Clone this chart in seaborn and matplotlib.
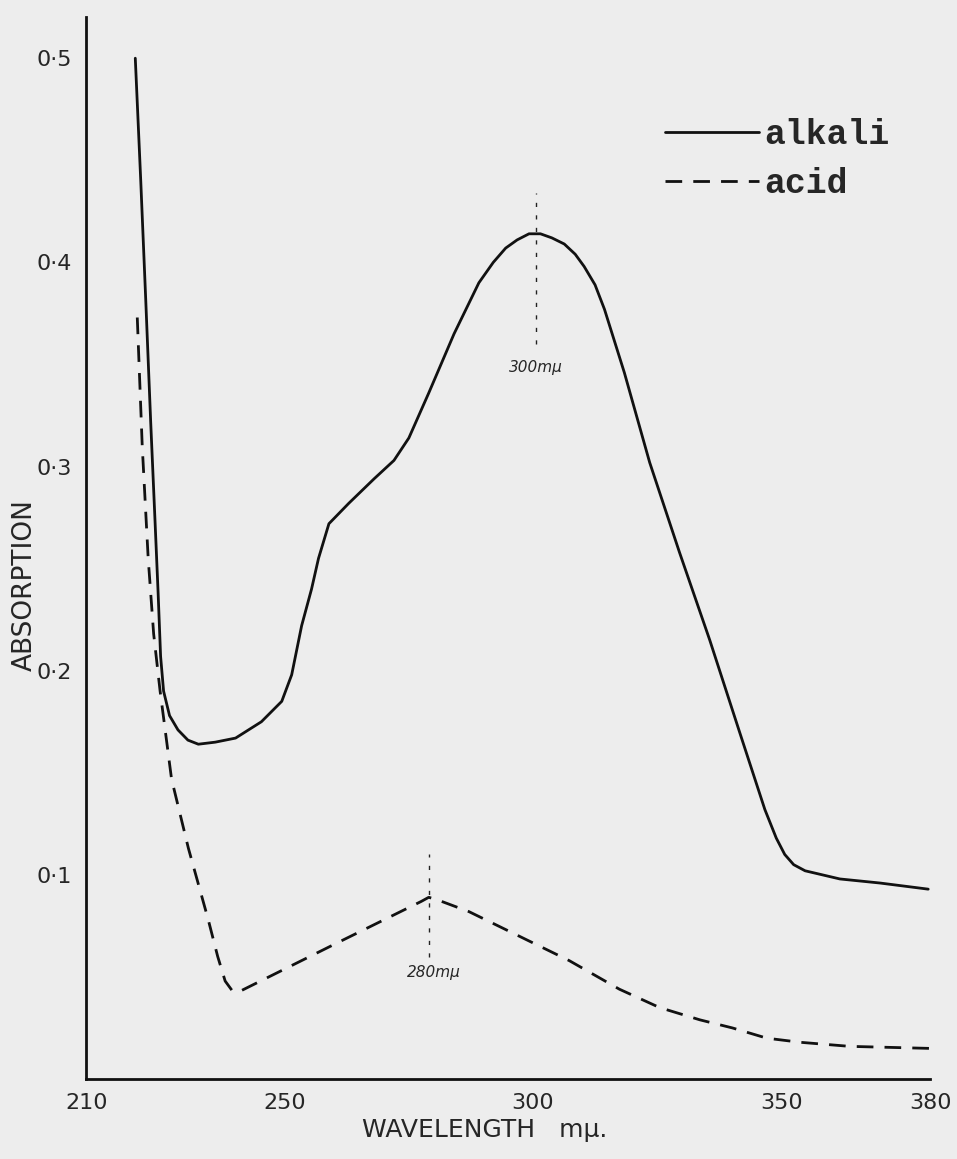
import matplotlib
matplotlib.use("Agg")
import matplotlib.pyplot as plt
import seaborn as sns

# Absorption spectrum
alkali_wl = [219.9, 221.0, 222.0, 223.0, 223.9, 224.5, 225.0, 225.6, 226.8, 228.5,
             230.5, 232.6, 236.0, 240.1, 245.3, 249.4, 251.4, 253.4, 255.4, 256.8,
             258.9, 262.9, 268.0, 272.0, 275.0, 279.0, 284.1, 289.1, 292.0, 294.5,
             296.8, 299.2, 301.5, 303.8, 306.3, 308.5, 310.3, 312.5, 314.4, 318.4,
             323.5, 329.5, 335.6, 341.6, 346.7, 349.0, 350.7, 352.5, 354.8, 361.8,
             369.9, 379.6]
alkali_abs = [0.500, 0.440, 0.382, 0.322, 0.272, 0.238, 0.207, 0.190, 0.178, 0.171,
              0.166, 0.164, 0.165, 0.167, 0.175, 0.185, 0.198, 0.222, 0.240, 0.255,
              0.272, 0.282, 0.294, 0.303, 0.314, 0.336, 0.365, 0.390, 0.400, 0.407,
              0.411, 0.414, 0.414, 0.412, 0.409, 0.404, 0.398, 0.389, 0.377, 0.346,
              0.302, 0.258, 0.215, 0.170, 0.132, 0.118, 0.110, 0.105, 0.102, 0.098,
              0.096, 0.093]

acid_wl = [220.3, 221.3, 222.5, 223.6, 224.9, 227.2, 230.6, 234.6, 236.5, 238.0,
           239.5, 241.0, 260.0, 277.5, 279.0, 280.5, 287.1, 297.2, 307.3, 317.4,
           325.5, 333.6, 340.2, 347.1, 353.8, 363.8, 380.0]
acid_abs = [0.373, 0.310, 0.255, 0.218, 0.190, 0.147, 0.113, 0.078, 0.060, 0.048,
            0.043, 0.043, 0.066, 0.087, 0.089, 0.088, 0.082, 0.070, 0.058, 0.044,
            0.035, 0.029, 0.025, 0.020, 0.018, 0.016, 0.015]

x_ticks = [210, 250, 300, 350, 380]
y_ticks = [0.1, 0.2, 0.3, 0.4, 0.5]
y_tick_labels = ["0·1", "0·2", "0·3", "0·4", "0·5"]

peak_alkali = 300.6
peak_acid = 279.0

paper = "#ededed"
sns.set_style("white")
plt.rcParams["font.family"] = ["DejaVu Sans"]

fig = plt.figure(figsize=(9.57, 11.59), dpi=100, facecolor=paper)
ax = fig.add_axes([0.090, 0.069, 0.882, 0.916])
ax.set_facecolor(paper)

sns.lineplot(x=alkali_wl, y=alkali_abs, ax=ax, color="#111111", linewidth=2.0,
             sort=False, estimator=None, label="alkali")
sns.lineplot(x=acid_wl, y=acid_abs, ax=ax, color="#111111", linewidth=2.0,
             sort=False, estimator=None, label="acid")
ax.lines[1].set_dashes([6, 4])
for ln in ax.lines:
    ln.set_solid_joinstyle("round")
    ln.set_dash_joinstyle("round")

# dotted peak markers
ax.plot([peak_alkali, peak_alkali], [0.360, 0.434], color="#222222", lw=1.0, ls=(0, (3, 6)))
ax.text(peak_alkali, 0.352, "300mμ", ha="center", va="top", fontsize=11, style="italic")
ax.plot([peak_acid, peak_acid], [0.060, 0.110], color="#222222", lw=1.0, ls=(0, (3, 6)))
ax.text(peak_acid + 1, 0.056, "280mμ", ha="center", va="top", fontsize=11, style="italic")

ax.set_xlim(210, 380)
ax.set_ylim(0, 0.52)
ax.set_xticks(x_ticks)
ax.set_xticklabels([str(t) for t in x_ticks], fontsize=16)
ax.set_yticks(y_ticks)
ax.set_yticklabels(y_tick_labels, fontsize=16)
ax.tick_params(length=0, pad=10)
for side in ["top", "right"]:
    ax.spines[side].set_visible(False)
for side in ["left", "bottom"]:
    ax.spines[side].set_color("#111111")
    ax.spines[side].set_linewidth(2.0)

leg = ax.legend(loc="upper left", bbox_to_anchor=(0.686, 0.905), frameon=False,
                borderpad=0, borderaxespad=0,
                handlelength=2.7, handletextpad=0.15, labelspacing=0.45,
                prop={"family": "Liberation Mono", "size": 25, "weight": "bold"})
leg.get_lines()[1].set_dashes([6, 4])

fig.text(25 / 957, 1 - 585 / 1159, "ABSORPTION", rotation=90, ha="center", va="center", fontsize=19)
fig.text(485 / 957, 1 - 1130 / 1159, "WAVELENGTH   mμ.", ha="center", va="center", fontsize=18)

fig.savefig("out.png", dpi=100, facecolor=paper)
